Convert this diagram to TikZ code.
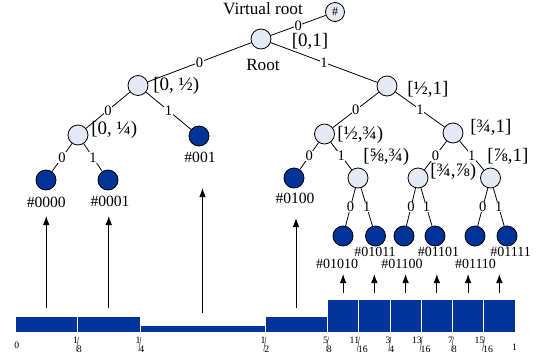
\documentclass[tikz,border=0pt]{standalone}
\usepackage{fontspec}
\setmainfont{Liberation Serif}
\usepackage{graphicx}
\usepackage{tikz}
\usetikzlibrary{arrows.meta}
\definecolor{nodefill}{RGB}{228,233,245}
\definecolor{leafblue}{RGB}{0,51,153}
\newcommand\tickfrac[2]{\raisebox{.45em}{#1}\kern-.2em\raisebox{-.43em}{\scalebox{1}[2.2]{/}}\kern-.2em\raisebox{-.45em}{#2}}
\tikzset{
    inner-node/.style = {circle, draw, fill=nodefill, minimum size=20pt, inner sep=0pt, line width=0.8pt},
    leaf-node/.style = {circle, draw, fill=leafblue, minimum size=20pt, inner sep=0pt, line width=0.8pt},
    edge-label/.style = {fill=white, inner sep=0.6pt, font=\fontsize{14.5}{14.5}\selectfont},
    range-label/.style = {anchor=base west, inner sep=0pt, font=\fontsize{19}{19}\selectfont},
    name-label/.style = {anchor=base, inner sep=0pt, font=\fontsize{17.2}{17.2}\selectfont},
    code-label/.style = {anchor=base, inner sep=0pt, font=\fontsize{15.6}{15.6}\selectfont},
    small-code-label/.style = {code-label, font=\fontsize{14}{14}\selectfont},
    tick-label/.style = {anchor=base, inner sep=0pt, font=\fontsize{9.8}{9.8}\selectfont},
    up-arrow/.style = {-{Latex[length=9pt,width=6.5pt]}, line width=0.9pt},
    bar/.style = {fill=leafblue, draw=white, line width=0.8pt},
}

\begin{document}
\begin{tikzpicture}[x=1pt, y=-1pt, line width=0.8pt]
\useasboundingbox (0,0) rectangle (542,362);

% tree nodes
\node[inner-node, minimum size=19pt] (vroot) at (335,12) {\fontsize{12}{12}\selectfont\#};
\node[inner-node] (n0) at (261,39) {};
\node[inner-node] (n00) at (138,85.5) {};
\node[inner-node] (n000) at (78,135) {};
\node[leaf-node] (n0000) at (46,180) {};
\node[leaf-node] (n0001) at (108,180) {};
\node[leaf-node] (n001) at (199,136) {};
\node[inner-node] (n01) at (387,86) {};
\node[inner-node] (n010) at (324.5,134) {};
\node[leaf-node] (n0100) at (294,178) {};
\node[inner-node] (n0101) at (358,178) {};
\node[inner-node] (n011) at (453,133) {};
\node[inner-node] (n0110) at (418,178) {};
\node[inner-node] (n0111) at (490.5,178) {};
\node[leaf-node] (n01010) at (343,236) {};
\node[leaf-node] (n01011) at (375.5,236) {};
\node[leaf-node] (n01100) at (404,236) {};
\node[leaf-node] (n01101) at (435,236) {};
\node[leaf-node] (n01110) at (475,236) {};
\node[leaf-node] (n01111) at (507,236) {};

% edges
\draw (vroot) -- node[edge-label]{0} (n0);
\draw (n0) -- node[edge-label]{0} (n00);
\draw (n0) -- node[edge-label]{1} (n01);
\draw (n00) -- node[edge-label]{0} (n000);
\draw (n00) -- node[edge-label]{1} (n001);
\draw (n000) -- node[edge-label]{0} (n0000);
\draw (n000) -- node[edge-label]{1} (n0001);
\draw (n01) -- node[edge-label]{0} (n010);
\draw (n01) -- node[edge-label]{1} (n011);
\draw (n010) -- node[edge-label]{0} (n0100);
\draw (n010) -- node[edge-label]{1} (n0101);
\draw (n011) -- node[edge-label]{0} (n0110);
\draw (n011) -- node[edge-label]{1} (n0111);
\draw (n0101) -- node[edge-label]{0} (n01010);
\draw (n0101) -- node[edge-label]{1} (n01011);
\draw (n0110) -- node[edge-label]{0} (n01100);
\draw (n0110) -- node[edge-label]{1} (n01101);
\draw (n0111) -- node[edge-label]{0} (n01110);
\draw (n0111) -- node[edge-label]{1} (n01111);

% texts
\node[name-label] (vname) at (263,14) {Virtual root};
\node[name-label] (rname) at (263,70) {Root};
\node[range-label] (r0) at (291.5,46) {[0,1]};
\node[range-label] (r00) at (153,90.5) {[0, ½)};
\node[range-label] (r000) at (91,134.5) {[0, ¼)};
\node[range-label] (r01) at (407,94.5) {[½,1]};
\node[range-label] (r010) at (337,139) {[½,¾)};
\node[range-label] (r011) at (470,132.5) {[¾,1]};
\node[range-label] (r0101) at (363,161) {[⅝,¾)};
\node[range-label] (r0110) at (430,176) {[¾,⅞)};
\node[range-label] (r0111) at (487,161) {[⅞,1]};

\node[code-label] (c0000) at (46.3,207) {\#0000};
\node[code-label] (c0001) at (110,206) {\#0001};
\node[code-label] (c001) at (200,162.7) {\#001};
\node[code-label] (c0100) at (295,203) {\#0100};
\node[small-code-label] (c01010) at (337,268) {\#01010};
\node[small-code-label] (c01011) at (375,256.7) {\#01011};
\node[small-code-label] (c01100) at (402,268) {\#01100};
\node[small-code-label] (c01101) at (438.5,256.7) {\#01101};
\node[small-code-label] (c01110) at (475.5,268) {\#01110};
\node[small-code-label] (c01111) at (510.7,256.7) {\#01111};

% the unit interval
\draw[bar] (15,316.7) rectangle (77.5,332);
\draw[bar] (77.5,316.7) rectangle (140,332);
\draw[bar] (140,325) rectangle (265,332);
\draw[bar] (265,316.7) rectangle (327.5,332);
\foreach \i in {0,...,5}
    \draw[bar] ({327.5+31.25*\i},299) rectangle ({358.75+31.25*\i},332);

\node[tick-label] (t0) at (16.7,348) {0};
\node[tick-label] (t1) at (514.5,350.7) {1};
\foreach \x/\t in {77.5/\tickfrac{1}{8}, 140/\tickfrac{1}{4}, 265/\tickfrac{1}{2},
    327.5/\tickfrac{5}{8}, 358.75/\tickfrac{11}{16}, 390/\tickfrac{3}{4},
    421.25/\tickfrac{13}{16}, 452.5/\tickfrac{7}{8}, 483.75/\tickfrac{15}{16}}
    \node[tick-label] at (\x,347.7) {\t};

% arrows up to the leaves
\coordinate (b0000) at (46.25,308);  \coordinate (e0000) at (46.25,216);
\coordinate (b0001) at (108.75,308); \coordinate (e0001) at (108.75,216);
\coordinate (b001) at (202.5,313);   \coordinate (e001) at (202.5,188);
\coordinate (b0100) at (296,308);    \coordinate (e0100) at (296,218);
\draw[up-arrow] (b0000) -- (e0000);
\draw[up-arrow] (b0001) -- (e0001);
\draw[up-arrow] (b001) -- (e001);
\draw[up-arrow] (b0100) -- (e0100);
\foreach \i in {0,...,5} {
    \coordinate (bs\i) at ({343.1+31.25*\i},293);
    \draw[up-arrow] (bs\i) -- ++(0,-19);
}
\end{tikzpicture}
\end{document}
